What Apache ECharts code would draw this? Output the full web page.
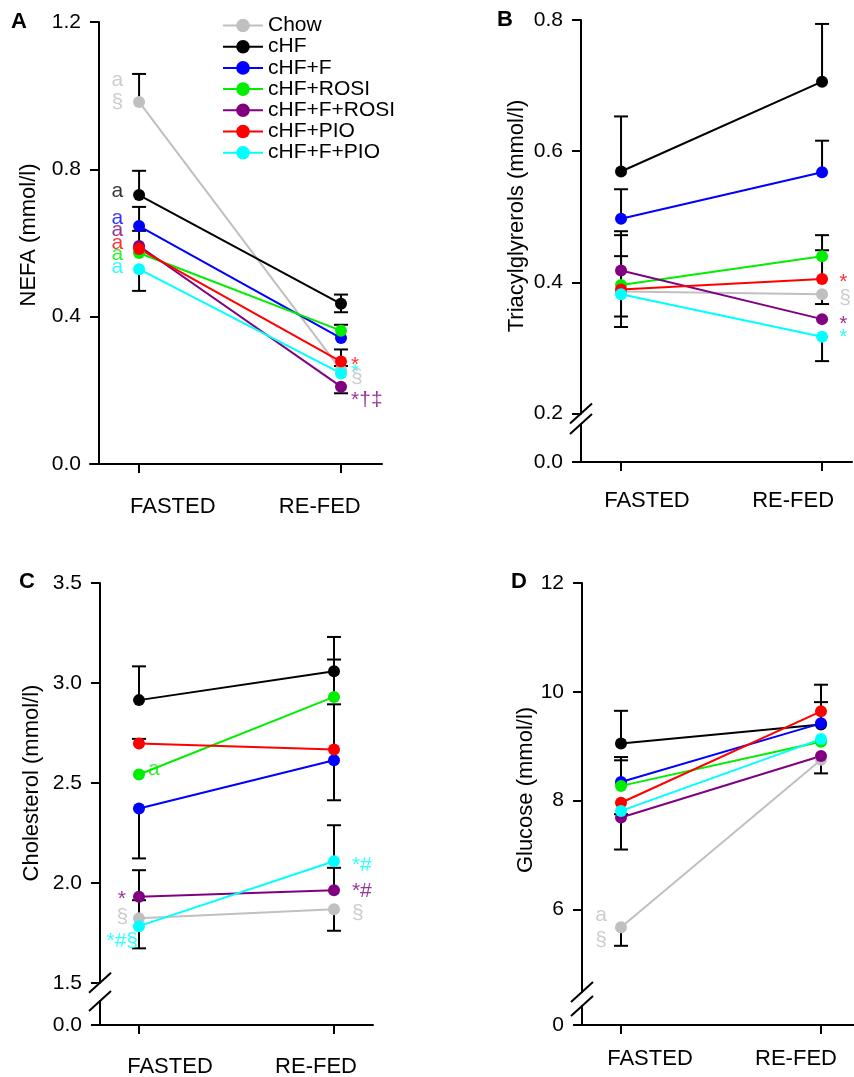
<!DOCTYPE html>
<html>
<head>
<meta charset="utf-8">
<script src="https://cdn.jsdelivr.net/npm/echarts@6.0.0/dist/echarts.min.js"></script>
<style>
html, body { margin: 0; padding: 0; background: #fff; }
#main { width: 854px; height: 1077px; }
</style>
</head>
<body>
<div id="main"></div>
<script>
var groups = ['Chow', 'cHF', 'cHF+F', 'cHF+ROSI', 'cHF+F+ROSI', 'cHF+PIO', 'cHF+F+PIO'];
var colors = ['#c0c0c0', '#000000', '#0000ff', '#00ee00', '#800080', '#ff0000', '#00ffff'];
var categories = ['FASTED', 'RE-FED'];

// group order as in groups[]
var nefaFasted = [0.983, 0.730, 0.646, 0.573, 0.592, 0.584, 0.529];
var nefaRefed  = [0.255, 0.435, 0.342, 0.362, 0.210, 0.278, 0.246];
var tgFasted   = [0.386, 0.569, 0.497, 0.396, 0.418, 0.389, 0.382];
var tgRefed    = [0.382, 0.706, 0.568, 0.440, 0.344, 0.405, 0.317];
var cholFasted = [1.822, 2.914, 2.372, 2.542, 1.930, 2.697, 1.783];
var cholRefed  = [1.868, 3.058, 2.613, 2.930, 1.963, 2.667, 2.108];
var gluFasted  = [5.67, 9.05, 8.34, 8.27, 7.69, 7.96, 7.81];
var gluRefed   = [8.75, 9.40, 9.42, 9.08, 8.82, 9.64, 9.13];

// error bars: [category, mean, cap]
var nefaErrors = [[0, 0.983, 1.059], [0, 0.730, 0.796], [0, 0.646, 0.698], [0, 0.592, 0.633], [0, 0.529, 0.470],
                  [1, 0.435, 0.460], [1, 0.435, 0.412], [1, 0.362, 0.378], [1, 0.278, 0.311], [1, 0.278, 0.266], [1, 0.210, 0.192]];
var tgErrors   = [[0, 0.569, 0.653], [0, 0.497, 0.542], [0, 0.418, 0.478], [0, 0.396, 0.472], [0, 0.389, 0.440], [0, 0.386, 0.348], [0, 0.382, 0.332],
                  [1, 0.706, 0.794], [1, 0.568, 0.616], [1, 0.440, 0.472], [1, 0.405, 0.449], [1, 0.382, 0.367], [1, 0.317, 0.280]];
var cholErrors = [[0, 2.914, 3.083], [0, 2.697, 2.720], [0, 2.372, 2.122], [0, 1.930, 2.063], [0, 1.822, 1.913], [0, 1.783, 1.672],
                  [1, 3.058, 3.230], [1, 2.930, 3.117], [1, 2.667, 2.893], [1, 2.613, 2.413], [1, 2.108, 2.288], [1, 1.963, 2.075], [1, 1.868, 1.760]];
var gluErrors  = [[0, 9.05, 9.65], [0, 8.34, 8.80], [0, 8.27, 8.74], [0, 7.96, 7.75], [0, 7.69, 7.10], [0, 5.67, 5.33],
                  [1, 9.64, 10.13], [1, 9.42, 9.81], [1, 8.75, 8.50]];

// significance marks: [x, y, text, group, side]
var nefaNotes = [[-0.079, 1.043, 'a', 0, 'L'], [-0.079, 0.983, '§', 0, 'L'], [-0.079, 0.741, 'a', 1, 'L'],
                 [-0.079, 0.668, 'a', 2, 'L'], [-0.079, 0.635, 'a', 4, 'L'], [-0.079, 0.600, 'a', 5, 'L'],
                 [-0.079, 0.570, 'a', 3, 'L'], [-0.079, 0.535, 'a', 6, 'L'],
                 [1.05, 0.269, '*', 5, 'R'], [1.05, 0.250, '*', 6, 'R'], [1.05, 0.237, '§', 0, 'R'], [1.05, 0.174, '*†‡', 4, 'R']];
var tgNotes   = [[1.085, 0.401, '*', 5, 'R'], [1.085, 0.376, '§', 0, 'R'], [1.085, 0.337, '*', 4, 'R'], [1.085, 0.317, '*', 6, 'R']];
var cholNotes = [[0.046, 2.568, 'a', 3, 'R'], [-0.067, 1.918, '*', 4, 'L'], [-0.056, 1.828, '§', 0, 'L'], [-0.005, 1.710, '*#§', 6, 'L'],
                 [1.092, 2.089, '*#', 6, 'R'], [1.092, 1.960, '*#', 4, 'R'], [1.092, 1.850, '§', 0, 'R']];
var gluNotes  = [[-0.07, 5.895, 'a', 0, 'L'], [-0.07, 5.44, '§', 0, 'L']];

var nefaTicks = [0, 0.4, 0.8, 1.2];
var tgTicks   = [0, 0.2, 0.4, 0.6, 0.8];
var cholTicks = [0, 1.5, 2.0, 2.5, 3.0, 3.5];
var gluTicks  = [0, 6, 8, 10, 12];

var font = "'Liberation Sans', Arial, Helvetica, sans-serif";

// xLab: where the category words sit along the x axis (they are set inward of the ticks)
var panels = [
  { letter: 'A', fasted: nefaFasted, refed: nefaRefed, errs: nefaErrors, notes: nefaNotes, ticks: nefaTicks,
    name: 'NEFA (mmol/l)', max: 1.2, brk: null, digits: 1,
    grid: { left: 90, top: 22, width: 292, height: 442 }, yOff: -9, xMin: -0.243, xMax: 1.203, xLab: [0.167, 0.895],
    nameGap: 59, namePad: 16, xMargin: 32, title: [11, 11] },
  { letter: 'B', fasted: tgFasted, refed: tgRefed, errs: tgErrors, notes: tgNotes, ticks: tgTicks,
    name: 'Triacylglyrerols (mmol/l)', max: 0.8, brk: { start: 0.058, end: 0.2, gap: 0.0158 }, digits: 1,
    grid: { left: 575, top: 20, width: 277, height: 442 }, yOff: -6, xMin: -0.229, xMax: 1.149, xLab: [0.129, 0.856],
    nameGap: 53, namePad: 50, xMargin: 28, title: [497, 9] },
  { letter: 'C', fasted: cholFasted, refed: cholRefed, errs: cholErrors, notes: cholNotes, ticks: cholTicks,
    name: 'Cholesterol (mmol/l)', max: 3.5, brk: { start: 0.12, end: 1.5, gap: 0.0915 }, digits: 1,
    grid: { left: 95, top: 583, width: 278, height: 442 }, yOff: -5, xMin: -0.2256, xMax: 1.2, xLab: [0.159, 0.908],
    nameGap: 57, namePad: 42, xMargin: 31, title: [19, 571] },
  { letter: 'D', fasted: gluFasted, refed: gluRefed, errs: gluErrors, notes: gluNotes, ticks: gluTicks,
    name: 'Glucose (mmol/l)', max: 12, brk: { start: 0.35, end: 4.48, gap: 0.256 }, digits: 0,
    grid: { left: 577, top: 583, width: 277, height: 442 }, yOff: -5, xMin: -0.22, xMax: 1.165, xLab: [0.145, 0.875],
    nameGap: 41, namePad: 28, xMargin: 23, title: [511, 571] }
];

var chart = echarts.init(document.getElementById('main'));

var grids = [], xAxes = [], yAxes = [], series = [], titles = [];

panels.forEach(function (p, k) {
  grids.push({ left: p.grid.left, top: p.grid.top, width: p.grid.width, height: p.grid.height, outerBoundsMode: 'none' });
  titles.push({ text: p.letter, left: p.title[0], top: p.title[1], padding: 0,
    textStyle: { fontSize: 22, fontWeight: 'bold', color: '#000', fontFamily: font } });

  xAxes.push({
    type: 'value', gridIndex: k, min: p.xMin, max: p.xMax,
    axisLine: { show: true, onZero: false, lineStyle: { color: '#000', width: 2 } },
    axisTick: { show: true, length: 9, customValues: [0, 1], lineStyle: { color: '#000', width: 2 } },
    axisLabel: { customValues: p.xLab, margin: p.xMargin, fontSize: 22, color: '#000', fontFamily: font,
      formatter: function (v) { return v < 0.5 ? categories[0] : categories[1]; } },
    splitLine: { show: false }
  });

  var y = {
    type: 'value', gridIndex: k, min: 0, max: p.max, offset: p.yOff,
    name: p.name, nameLocation: 'middle', nameGap: p.nameGap,
    nameTextStyle: { fontSize: 22, color: '#000', fontFamily: font, padding: [0, 0, 0, p.namePad] },
    axisLine: { show: true, onZero: false, lineStyle: { color: '#000', width: 2 } },
    axisTick: { show: true, length: 9, customValues: p.ticks, lineStyle: { color: '#000', width: 2 } },
    axisLabel: { customValues: p.ticks, margin: 18, fontSize: 21, color: '#000', fontFamily: font,
      formatter: function (v) { return v.toFixed(p.digits); } },
    splitLine: { show: false }
  };
  if (p.brk) {
    y.breaks = [p.brk];
    y.breakArea = { show: false };
  }
  yAxes.push(y);

  series.push({
    type: 'custom', xAxisIndex: k, yAxisIndex: k, z: 1, silent: true,
    data: p.errs,
    encode: { x: 0, y: [1, 2] },
    renderItem: function (params, api) {
      var a = api.coord([api.value(0), api.value(1)]);
      var b = api.coord([api.value(0), api.value(2)]);
      return {
        type: 'group',
        children: [
          { type: 'line', shape: { x1: a[0], y1: a[1], x2: b[0], y2: b[1] }, style: { stroke: '#000', lineWidth: 2 } },
          { type: 'line', shape: { x1: b[0] - 7, y1: b[1], x2: b[0] + 7, y2: b[1] }, style: { stroke: '#000', lineWidth: 2 } }
        ]
      };
    }
  });

  groups.forEach(function (g, i) {
    series.push({
      type: 'line', name: g, xAxisIndex: k, yAxisIndex: k, z: 2,
      data: [[0, p.fasted[i]], [1, p.refed[i]]],
      symbol: 'circle', symbolSize: 12, color: colors[i],
      lineStyle: { width: 2, color: colors[i] }
    });
  });

  series.push({
    type: 'scatter', xAxisIndex: k, yAxisIndex: k, z: 3, silent: true, symbolSize: 0,
    data: p.notes.map(function (n) {
      return {
        value: [n[0], n[1]],
        label: { show: true, formatter: n[2], color: colors[n[3]], fontSize: 21, fontFamily: font,
          position: n[4] === 'L' ? 'left' : 'right', distance: 0 }
      };
    })
  });
});

chart.setOption({
  animation: false,
  backgroundColor: '#fff',
  title: titles,
  legend: {
    data: groups, orient: 'vertical', left: 222, top: 15, padding: 0,
    itemWidth: 40, itemHeight: 17, itemGap: 0.2,
    textStyle: { fontSize: 21, lineHeight: 21, color: '#000', fontFamily: font }
  },
  grid: grids,
  xAxis: xAxes,
  yAxis: yAxes,
  series: series
});

// "//" marks on the broken axes
var gfx = [];
panels.forEach(function (p, k) {
  if (!p.brk) return;
  var ax = p.grid.left - p.yOff;
  var yHi = chart.convertToPixel({ yAxisIndex: k }, p.brk.end);
  var yLo = chart.convertToPixel({ yAxisIndex: k }, p.brk.start);
  gfx.push({ type: 'rect', z: 100, shape: { x: ax - 3, y: yHi + 1, width: 6, height: yLo - yHi - 2 }, style: { fill: '#fff' } });
  [yHi, yLo].forEach(function (yy) {
    gfx.push({ type: 'line', z: 101, shape: { x1: ax - 11, y1: yy + 10, x2: ax + 11, y2: yy - 10 }, style: { stroke: '#000', lineWidth: 2 } });
  });
});
chart.setOption({ graphic: gfx });
</script>
</body>
</html>
